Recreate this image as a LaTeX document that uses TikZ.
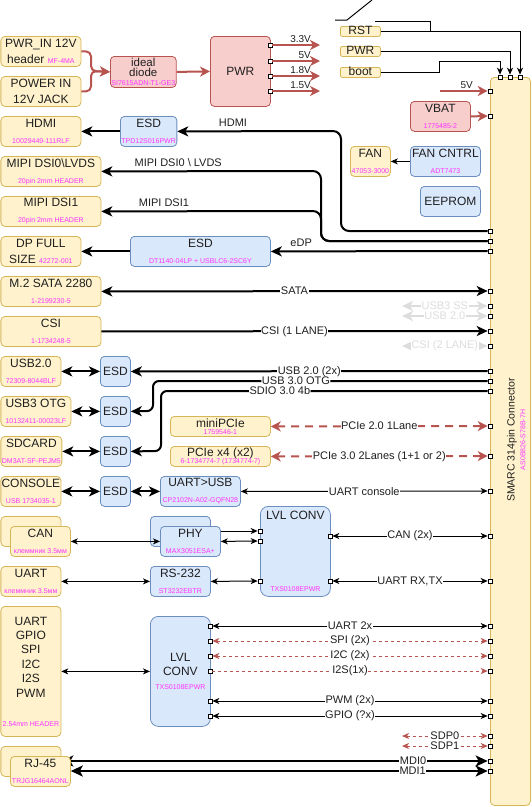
\documentclass[tikz,border=0pt]{standalone}
\usepackage{fontspec}
\setmainfont{Liberation Sans}
\usetikzlibrary{arrows.meta}
\definecolor{yFill}{HTML}{FFF2CC}
\definecolor{yLine}{HTML}{D6B656}
\definecolor{bFill}{HTML}{DAE8FC}
\definecolor{bLine}{HTML}{6C8EBF}
\definecolor{rFill}{HTML}{F8CECC}
\definecolor{rLine}{HTML}{B85450}
\definecolor{partMag}{HTML}{FF33FF}
\definecolor{ghostC}{HTML}{DDDDDD}
\definecolor{nInk}{HTML}{1F1F1F}
\newcommand{\pn}[1]{{\color{partMag}\fontsize{7}{8}\selectfont #1}}
\tikzset{
  blk/.style={rounded corners=4pt, minimum height=30pt, inner sep=1pt, align=center,
    anchor=north west, text=nInk, font=\fontsize{12}{16}\selectfont, line width=0.8pt},
  ybox/.style={blk, draw=yLine, fill=yFill},
  bbox/.style={blk, draw=bLine, fill=bFill},
  rbox/.style={blk, draw=rLine, fill=rFill},
  btn/.style={ybox, minimum width=40pt, minimum height=10pt, rounded corners=2pt,
    inner sep=0pt, text height=8pt, text depth=1.5pt},
  port/.style={draw=black, fill=white, minimum size=4pt, inner sep=0pt, line width=0.6pt},
}
\tikzset{
  thk/.style={draw=black, line width=2pt, >={Stealth[length=11pt,width=10pt,inset=3pt]}},
  thn/.style={draw=black, line width=1pt, >={Stealth[length=7pt,width=6pt,inset=2pt]}},
  mdil/.style={draw=black, line width=2.6pt, >={Stealth[length=12pt,width=11pt,inset=3pt]}},
  pwrl/.style={draw=rLine, line width=2pt, >={Stealth[length=10pt,width=10pt,inset=3pt]}, ->},
  pcie/.style={draw=rLine, line width=2pt, dash pattern=on 8pt off 6pt,
    >={Stealth[length=10pt,width=10pt,inset=3pt]}},
  rdash/.style={draw=rLine, line width=1pt, dash pattern=on 3pt off 3pt,
    >={Stealth[length=7pt,width=6pt,inset=2pt]}},
  ghost/.style={draw=ghostC, line width=2pt, >={Stealth[length=11pt,width=10pt,inset=3pt]}},
  lvb/.style={thn, <->},
  lvr/.style={rdash, <->},
  lvrone/.style={rdash, ->},
  lbl/.style={fill=white, inner sep=0.5pt, text=nInk, font=\fontsize{11}{12}\selectfont},
  glbl/.style={lbl, text=ghostC},
  lblup/.style={lbl, fill=none, anchor=base, yshift=5pt},
  volt/.style={text=nInk, font=\fontsize{10}{11}\selectfont, inner sep=1pt, anchor=south east},
}

\begin{document}
\begin{tikzpicture}[x=1pt,y=-1pt]
  \useasboundingbox (0,0) rectangle (531,807);

  % SMARC connector
  \node[ybox, minimum width=40pt, minimum height=728pt] (smarc) at (490,77) {};
  \node[rotate=90, text=nInk, font=\fontsize{10.5}{12}\selectfont] (smarctxt) at (512,440) {SMARC 314pin Connector};
  \node[rotate=90, text=partMag, font=\fontsize{7}{8}\selectfont] (smarcpn) at (523,440) {AS0B826-S78B-7H};

  % power
  \node[ybox, minimum width=80pt] (pwrhdr) at (0.5,36) {PWR\_IN 12V\\header \pn{MF-4MA}};
  \node[ybox, minimum width=80pt] (pwrjack) at (0.5,76) {POWER IN\\12V JACK};
  \node[rbox, minimum width=60pt, minimum height=31pt, font=\fontsize{11.5}{16}\selectfont] (diode) at (110,56)
    {ideal\\[-6pt]diode\\[-6.5pt]\pn{SI7615ADN-T1-GE3}};
  \node[rbox, minimum width=60pt, minimum height=70pt] (pwr) at (210,36) {PWR};
  \node[btn] (rst) at (340,26) {RST};
  \node[btn] (pwrbtn) at (340,46) {PWR};
  \node[btn] (boot) at (340,67) {boot};
  \node[rbox, minimum width=60pt] (vbat) at (410,101) {VBAT\\\pn{1775485-2}};
  \node[ybox, minimum width=40pt] (fan) at (350,146) {FAN\\\pn{47053-3000}};
  \node[bbox, minimum width=70pt] (fancntrl) at (410,146) {FAN CNTRL\\\pn{ADT7473}};
  \node[bbox, minimum width=60pt] (eeprom) at (420,186) {EEPROM};

  % video, storage, usb
  \node[ybox, minimum width=80pt] (hdmi) at (0.5,116) {HDMI\\\pn{10029449-111RLF}};
  \node[bbox, minimum width=50pt] (esdhdmi) at (120,116) {ESD\\\pn{TPD12S016PWR}};
  \node[ybox, minimum width=100pt] (mipi0) at (0.5,156) {MIPI DSI0\textbackslash LVDS\\\pn{20pin 2mm HEADER}};
  \node[ybox, minimum width=100pt] (mipi1) at (0.5,196) {MIPI DSI1\\\pn{20pin 2mm HEADER}};
  \node[ybox, minimum width=80pt] (dp) at (0.5,236) {DP FULL\\SIZE \pn{42272-001}};
  \node[bbox, minimum width=140pt] (esddp) at (130,236) {ESD\\\pn{DT1140-04LP + USBLC6-2SC6Y}};
  \node[ybox, minimum width=100pt] (sata) at (0.5,276) {M.2 SATA 2280\\\pn{1-2199230-5}};
  \node[ybox, minimum width=100pt] (csi) at (0.5,316) {CSI\\\pn{1-1734248-5}};
  \node[ybox, minimum width=60pt] (usb2) at (0.5,356) {USB2.0\\\pn{72309-8044BLF}};
  \node[ybox, minimum width=70pt] (usb3) at (0.5,396) {USB3 OTG\\\pn{10132411-00023LF}};
  \node[ybox, minimum width=60pt] (sdcard) at (0.5,436) {SDCARD\\\pn{DM3AT-SF-PEJM5}};
  \node[ybox, minimum width=60pt, inner xsep=0pt] (console) at (0.5,476) {CONSOLE\\\pn{USB 1734035-1}};
  \node[bbox, minimum width=30pt] (esdusb2) at (100,356) {ESD};
  \node[bbox, minimum width=30pt] (esdusb3) at (100,396) {ESD};
  \node[bbox, minimum width=30pt] (esdsd) at (100,436) {ESD};
  \node[bbox, minimum width=30pt] (esdcon) at (100,476) {ESD};
  \node[ybox, minimum width=100pt, minimum height=20pt] (minipcie) at (170,416) {miniPCIe\\[-9pt]\pn{1759546-1}};
  \node[ybox, minimum width=100pt, minimum height=20pt] (pciex4) at (170,446) {PCIe x4 (x2)\\[-9pt]\pn{6-1734774-7 (1734774-7)}};
  \node[bbox, minimum width=80pt] (uartusb) at (160,476) {UART>USB\\\pn{CP2102N-A02-GQFN28}};

  % can, uart, header
  \node[ybox, minimum width=60pt] (canbk) at (0.5,516) {};
  \node[ybox, minimum width=60pt] (can) at (10,526) {CAN\\\pn{клеммник 3.5мм}};
  \node[bbox, minimum width=60pt] (phybk) at (150,516) {};
  \node[bbox, minimum width=60pt] (phy) at (160,526) {PHY\\\pn{MAX3051ESA+}};
  \node[ybox, minimum width=60pt] (uart) at (0.5,566) {UART\\\pn{клеммник 3.5мм}};
  \node[bbox, minimum width=60pt] (rs232) at (150,566) {RS-232\\\pn{ST3232EBTR}};
  \node[bbox, minimum width=70pt, minimum height=90pt, rounded corners=8pt] (lvl1) at (260,506) {LVL CONV\\[56pt]\pn{TXS0108EPWR}};
  \node[ybox, minimum width=60pt, minimum height=130pt] (hdr) at (0.5,606)
    {UART\\[-1.6pt]GPIO\\[-1.6pt]SPI\\[-1.6pt]I2C\\[-1.6pt]I2S\\[-1.6pt]PWM\\[13pt]\pn{2.54mm HEADER}};
  \node[bbox, minimum width=60pt, minimum height=110pt, rounded corners=8pt] (lvl2) at (150,616) {LVL\\[-2pt]CONV\\[-2pt]\pn{TXS0108EPWR}};
  \node[ybox, minimum width=60pt] (rjbk) at (0.5,746) {};

  % ports
  \foreach \y in {91,116,231,241,251,291,306,316,331,346,371,381,391,426,456,491,536,581,626,641,656,671,701,716,736,746,761,771}
    \node[port] (c\y) at (490,\y) {};
  \foreach \x in {500,510,520}
    \node[port] (t\x) at (\x,77) {};
  \foreach \y in {45,61,76,91}
    \node[port] (v\y) at (270,\y) {};
  \foreach \y in {531,541,581}
    \node[port] (la\y) at (260,\y) {};
  \foreach \y in {536,581}
    \node[port] (lb\y) at (330,\y) {};
  \foreach \y in {626,641,656,671,701,716}
    \node[port] (lc\y) at (210,\y) {};

  % power rails
  \draw[pwrl, rounded corners=5pt] (pwrhdr.east) -| (91,71) -- (diode.west);
  \draw[pwrl, rounded corners=5pt] (pwrjack.east) -| (91,71) -- (diode.west);
  \draw[pwrl] (diode.east) -- (pwr.west);
  \foreach \y/\v in {45/3.3V, 61/5V, 76/1.8V, 91/1.5V} {
    \coordinate (vo\y) at (320,\y);
    \draw[pwrl] (v\y.east) -- node[volt, pos=0.85] (vl\y) {\v} (vo\y);
  }
  \coordinate (in5v) at (440,91);
  \draw[pwrl] (in5v) -- node[volt, pos=0.73] (l5v) {5V} (c91.west);
  \draw[pwrl] (vbat.east) -- (c116.west);

  % buttons
  \draw[thn] (335,20) -- (347,20) -- (372,0);
  \draw[thn] (375,21) -| (430,31);
  \draw[thn, ->] (rst.east) -| (t520.north);
  \draw[thn, ->] (pwrbtn.east) -| (t510.north);
  \draw[thn, ->] (boot.east) -| (439,61) -| (t500.north);
  \draw[thn, ->] (fancntrl.west) -- (fan.east);

  % video
  \draw[thk, ->, rounded corners=8pt] (c231.west) -| (341,131) -- node[lblup, pos=0.66] (lhdmi) {HDMI} (esdhdmi.east);
  \draw[thk, ->] (esdhdmi.west) -- (hdmi.east);
  \draw[thk, ->, rounded corners=8pt] (c241.west) -| (321,171) -- node[lblup, pos=0.65] (lmipi0) {MIPI DSI0 \textbackslash{} LVDS} (mipi0.east);
  \draw[thk, ->, rounded corners=8pt] (c241.west) -| (321,211) -- node[lblup, pos=0.715] (lmipi1) {MIPI DSI1} (mipi1.east);
  \draw[thk, ->] (c251.west) -- node[lblup, pos=0.86] (ledp) {eDP} (esddp.east);
  \draw[thk, ->] (esddp.west) -- (dp.east);

  % storage, camera, usb
  \draw[thk, <->] (sata.east) -- node[lbl] (lsata) {SATA} (c291.west);
  \coordinate (g306) at (402,306);
  \coordinate (g316) at (402,316);
  \coordinate (g346) at (402,346);
  \draw[ghost, <->] (g306) -- node[glbl] (lss) {USB3 SS} (c306.west);
  \draw[ghost, <->] (g316) -- node[glbl] (lu20) {USB 2.0} (c316.west);
  \draw[ghost, <->] (g346) -- node[glbl] (lcsi2) {CSI (2 LANE)} (c346.west);
  \draw[thk, ->] (csi.east) -- node[lbl] (lcsi) {CSI (1 LANE)} (c331.west);
  \draw[thk, <->] (usb2.east) -- (esdusb2.west);
  \draw[thk, ->] (c371.west) -- node[lbl] (lusb2) {USB 2.0 (2x)} (esdusb2.east);
  \draw[thk, <->] (usb3.east) -- (esdusb3.west);
  \draw[thk, ->, rounded corners=6pt] (c381.west) -- node[lbl, pos=0.573] (lotg) {USB 3.0 OTG} (153,381) -- (153,411) -- (esdusb3.east);
  \draw[thk, <->] (sdcard.east) -- (esdsd.west);
  \draw[thk, ->, rounded corners=6pt] (c391.west) -- node[lbl, pos=0.636] (lsdio) {SDIO 3.0 4b} (161,391) -- (161,451) -- (esdsd.east);

  % pcie
  \draw[pcie, <->] (minipcie.east) -- node[lbl] (lpcie1) {PCIe 2.0 1Lane} (c426.west);
  \draw[pcie, <->] (pciex4.east) -- node[lbl] (lpcie2) {PCIe 3.0 2Lanes (1+1 or 2)} (c456.west);

  % console
  \draw[thk, <->] (console.east) -- (esdcon.west);
  \draw[thk, <->] (esdcon.east) -- (uartusb.west);
  \draw[thn, <->] (uartusb.east) -- node[lbl] (lcons) {UART console} (c491.west);

  % can, uart
  \draw[thn, <->] (can.east) -- (phy.west);
  \draw[thn, ->] (phy.east |- la531) -- (la531.west);
  \draw[thn, <->] (phy.east) -- (la541.west);
  \draw[thn, <->] (lb536.east) -- node[lbl] (lcan) {CAN (2x)} (c536.west);
  \draw[thn, <->] (uart.east) -- (rs232.west);
  \draw[thn, <->] (rs232.east) -- (la581.west);
  \draw[thn, <->] (lb581.east) -- node[lbl] (luart) {UART RX,TX} (c581.west);

  % header
  \draw[thn, <->] (hdr.east) -- (lvl2.west);
  \foreach \y/\t/\st in {626/{UART 2x}/lvb, 641/{SPI (2x)}/lvr, 656/{I2C (2x)}/lvr,
      671/{I2S(1x)}/lvrone, 701/{PWM (2x)}/lvb, 716/{GPIO (?x)}/lvb}
    \draw[\st] (lc\y.east) -- node[lbl] (ll\y) {\t} (c\y.west);
  \coordinate (g736) at (402,736);
  \coordinate (g746) at (402,746);
  \draw[rdash, <->] (g736) -- node[lbl] (lsdp0) {SDP0} (c736.west);
  \draw[rdash, <->] (g746) -- node[lbl] (lsdp1) {SDP1} (c746.west);

  % ethernet
  \draw[mdil, <->] (rjbk.east |- c761) -- node[lbl, pos=0.825] (lmdi0) {MDI0} (c761.west);
  \node[ybox, minimum width=60pt] (rj) at (10,756) {RJ-45\\\pn{TRJG16464AONL}};
  \draw[mdil, <->] (rj.east |- c771) -- node[lbl, pos=0.82] (lmdi1) {MDI1} (c771.west);
\end{tikzpicture}
\end{document}
